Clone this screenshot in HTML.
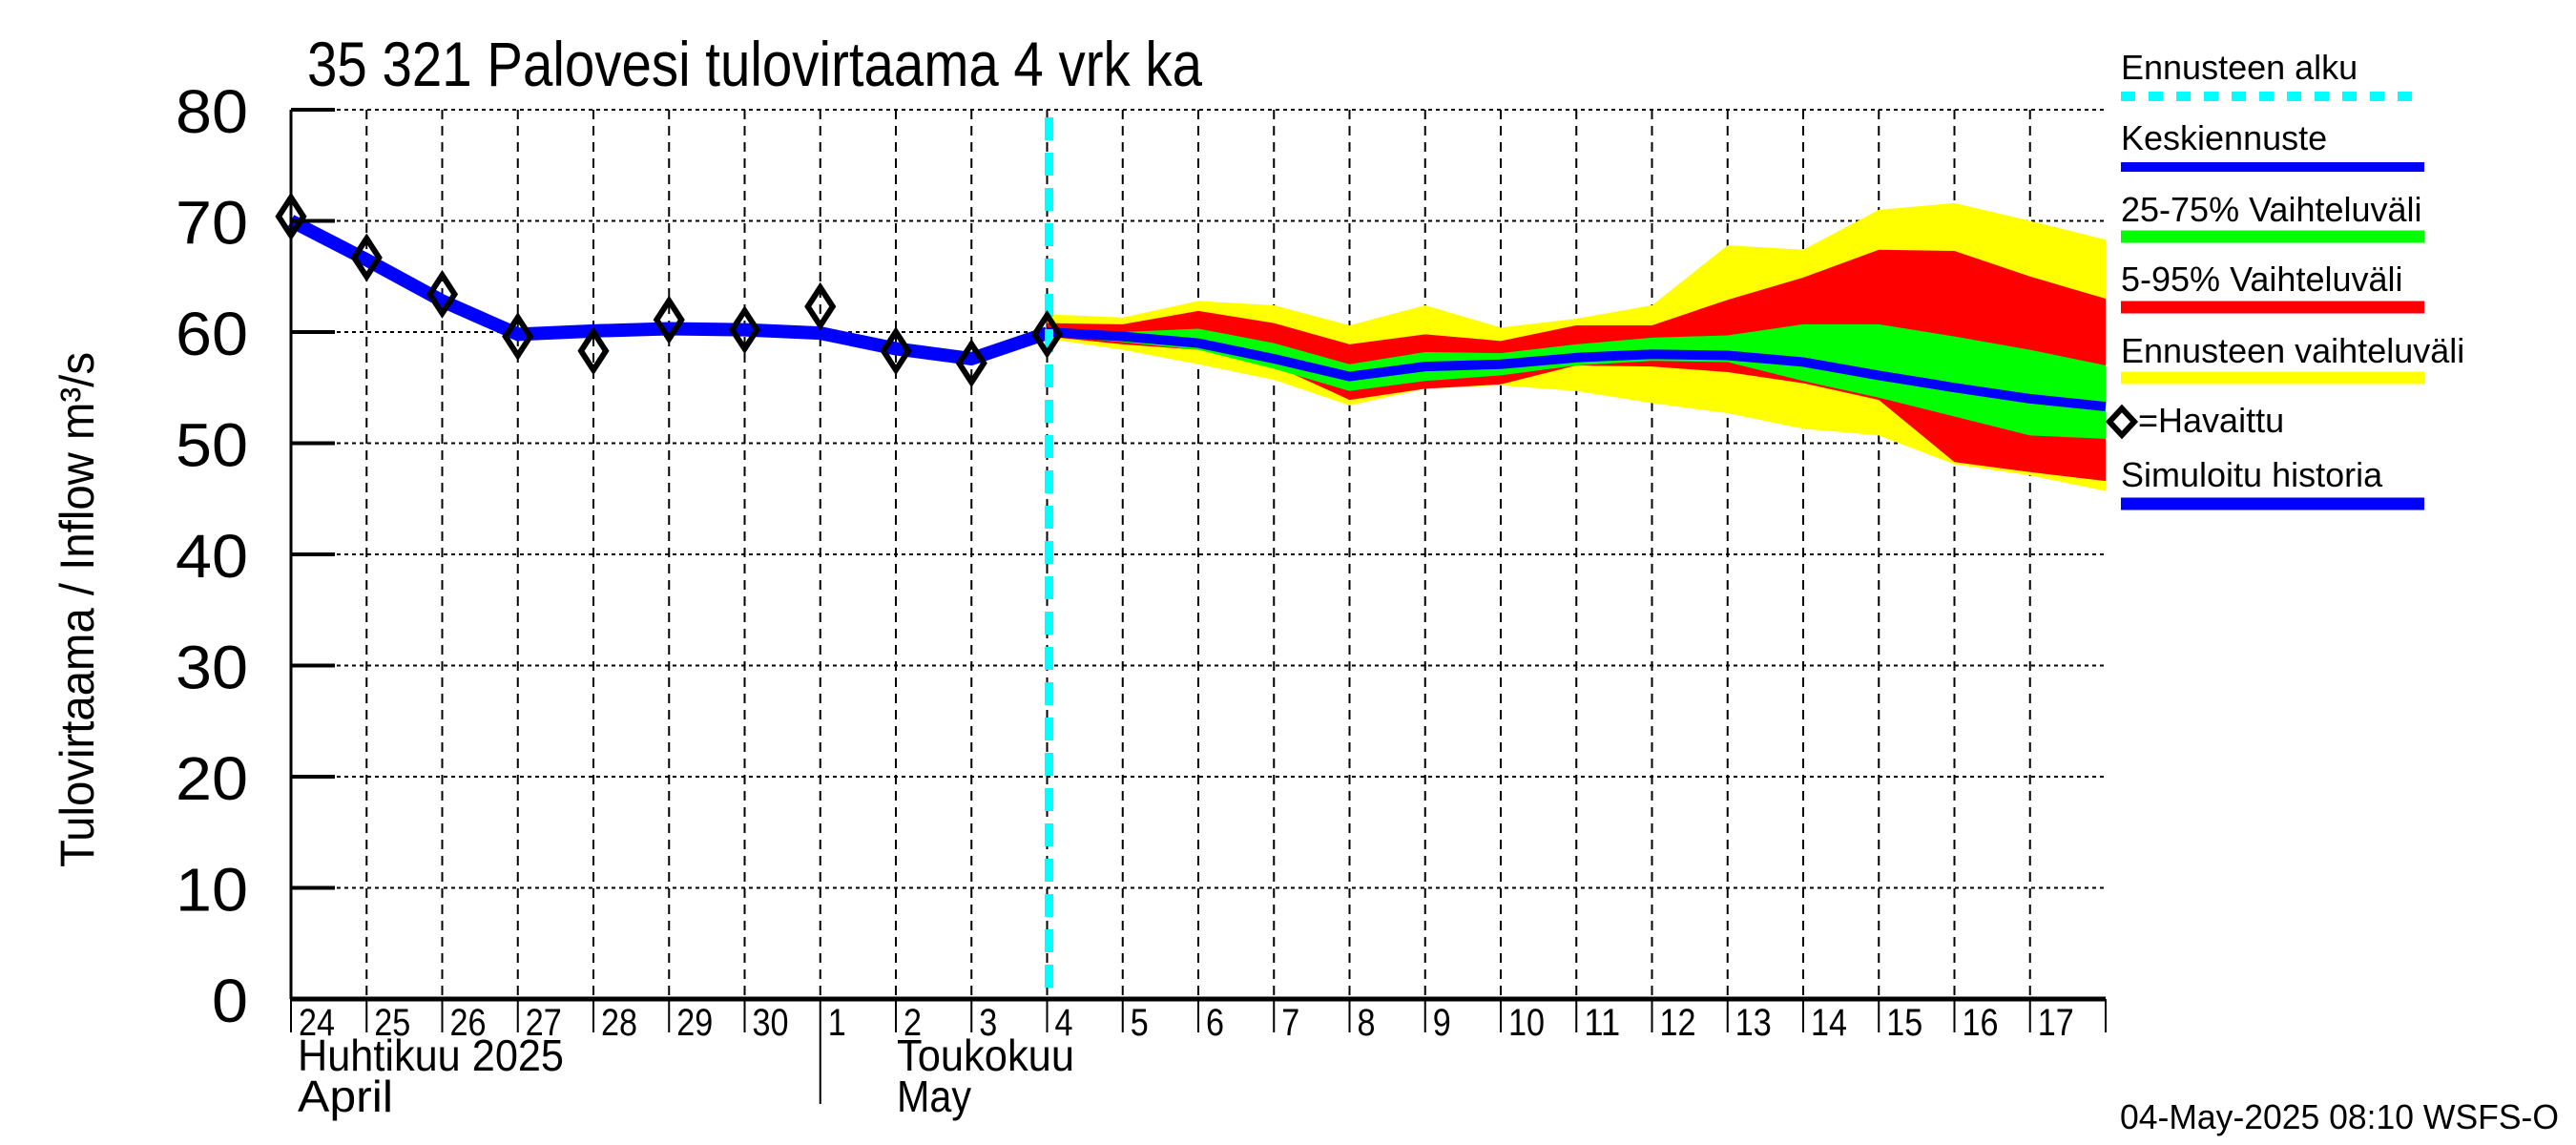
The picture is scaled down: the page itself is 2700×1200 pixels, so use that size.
<!DOCTYPE html>
<html><head><meta charset="utf-8"><style>
body{margin:0;background:#fff;}
svg{display:block;font-family:"Liberation Sans",sans-serif;}
</style></head><body>
<svg id="chart" width="2700" height="1200" viewBox="0 0 2700 1200" xmlns="http://www.w3.org/2000/svg">
<rect width="2700" height="1200" fill="#fff"/>
<g id="grid"></g>
<g id="bands"></g>
<g id="lines"></g>
<g id="axes"></g>
<text x="322" y="90" font-size="66" textLength="938" lengthAdjust="spacingAndGlyphs">35 321 Palovesi tulovirtaama 4 vrk ka</text>
<text transform="translate(98,639) rotate(-90)" text-anchor="middle" font-size="50" textLength="540" lengthAdjust="spacingAndGlyphs">Tulovirtaama / Inflow    m³/s</text>
<text x="312" y="1122" font-size="46" textLength="279" lengthAdjust="spacingAndGlyphs">Huhtikuu  2025</text>
<text x="312" y="1165" font-size="46" textLength="100" lengthAdjust="spacingAndGlyphs">April</text>
<text x="940" y="1122" font-size="46" textLength="186" lengthAdjust="spacingAndGlyphs">Toukokuu</text>
<text x="940" y="1165" font-size="46" textLength="78" lengthAdjust="spacingAndGlyphs">May</text>
<text x="2222" y="1183" font-size="36" textLength="460" lengthAdjust="spacingAndGlyphs">04-May-2025 08:10 WSFS-O</text>
<g id="legend"></g>
</svg>
<script>
const obsDays=[0,1,2,3,4,5,6,7,8,9,10];
const obsValues=[70.4,66.7,63.4,59.6,58.3,61.1,60.2,62.3,58.3,57.2,59.8];
const simDays=[0,1,2,3,4,5,6,7,8,9,10];
const simValues=[70,66.5,62.8,59.8,60.1,60.3,60.2,59.9,58.5,57.6,59.9];
const fcDays=[10,11,12,13,14,15,16,17,18,19,20,21,22,23,24];
const yellowTop=[61.6,61.3,62.8,62.4,60.6,62.4,60.4,61.2,62.4,67.8,67.4,71,71.6,70,68.3];
const redTop=[60.8,60.7,61.9,60.8,58.9,59.8,59.2,60.6,60.6,62.9,64.9,67.4,67.3,65,63];
const greenTop=[60.3,60,60.3,59,57.1,58.2,58.1,58.9,59.5,59.7,60.7,60.7,59.6,58.4,57];
const median=[60,59.6,59,57.6,56,56.9,57.1,57.7,58,57.9,57.3,56.1,55,54,53.3];
const greenBot=[59.7,59.1,58.4,56.7,54.7,55.6,56.1,57,57.4,57.3,55.6,54.1,52.4,50.7,50.4];
const redBot=[59.6,58.9,58.4,57,53.9,54.9,55.3,57,56.9,56.4,55.4,53.9,48.3,47.4,46.6];
const yellowBot=[59.4,58.4,57.1,55.7,53.4,54.9,55.2,54.7,53.6,52.7,51.3,50.7,48.1,47.1,45.7];
const yTicks=[0,10,20,30,40,50,60,70,80];
const dayLabels=["24","25","26","27","28","29","30","1","2","3","4","5","6","7","8","9","10","11","12","13","14","15","16","17"];
const forecastStart=10;

const L=305,R=2207,T=115,B=1047,NDAYS=24;
const xs=d=>L+d*(R-L)/NDAYS;
const ys=v=>B-v*(B-T)/80;
const NS="http://www.w3.org/2000/svg";
function mk(tag,parent,attrs){const e=document.createElementNS(NS,tag);for(const k in attrs)e.setAttribute(k,attrs[k]);parent.appendChild(e);return e;}
const grid=document.getElementById('grid'),axes=document.getElementById('axes'),bands=document.getElementById('bands'),lines=document.getElementById('lines'),legend=document.getElementById('legend');

yTicks.forEach(v=>{
  if(v>0){const g=mk('line',grid,{x1:L,x2:R,y1:ys(v),y2:ys(v),stroke:'#000','stroke-width':2,'stroke-dasharray':'4 4'});
  
  }
  const t=mk('line',axes,{x1:L,x2:L+46,y1:ys(v),y2:ys(v),stroke:'#000','stroke-width':4});
  
  
  const s=String(v);
  const lb=mk('text',axes,{x:260,y:ys(v)+24,'text-anchor':'end','font-size':64,textLength:s.length*38,lengthAdjust:'spacingAndGlyphs'});
  lb.textContent=s;
  
  
});
for(let d=1;d<NDAYS;d++){
  const g=mk('line',grid,{x1:xs(d),x2:xs(d),y1:T,y2:B,stroke:'#000','stroke-width':2,'stroke-dasharray':'10 7'});
  
  
}
for(let d=0;d<=NDAYS;d++){
  const t=mk('line',axes,{x1:xs(d),x2:xs(d),y1:B,y2:B+(d==7?110:35),stroke:'#000','stroke-width':2});
  
  
}
dayLabels.forEach((s,i)=>{
  const t=mk('text',axes,{x:xs(i)+8,y:B+38,'font-size':40,textLength:s.length*19,lengthAdjust:'spacingAndGlyphs'});
  t.textContent=s;
  
  
});
mk('line',axes,{x1:L,x2:L,y1:T,y2:B,stroke:'#000','stroke-width':3});
mk('line',axes,{x1:L,x2:R,y1:B,y2:B,stroke:'#000','stroke-width':5});

function band(top,bot,color,name){
  let p=fcDays.map((d,i)=>xs(d)+','+ys(top[i])).join(' ')+' '+fcDays.slice().reverse().map((d,j)=>{const i=fcDays.length-1-j;return xs(d)+','+ys(bot[i]);}).join(' ');
  const e=mk('polygon',bands,{points:p,fill:color});
  
  
}
band(yellowTop,yellowBot,'#ffff00','band-forecast-range');
band(redTop,redBot,'#ff0000','band-5-95');
band(greenTop,greenBot,'#00ff00','band-25-75');

const sim=mk('polyline',lines,{points:simDays.map((d,i)=>xs(d)+','+ys(simValues[i])).join(' '),fill:'none',stroke:'#0000ff','stroke-width':14,'stroke-linejoin':'round'});


const med=mk('polyline',lines,{points:fcDays.map((d,i)=>xs(d)+','+ys(median[i])).join(' '),fill:'none',stroke:'#0000ff','stroke-width':10,'stroke-linejoin':'round'});


const cy=mk('line',lines,{x1:xs(forecastStart)+2,x2:xs(forecastStart)+2,y1:T+8,y2:B,stroke:'#00ffff','stroke-width':9,'stroke-dasharray':'24 13'});


function diamond(parent,x,y,w,h){return mk('polygon',parent,{points:`${x},${y-h} ${x+w},${y} ${x},${y+h} ${x-w},${y}`,fill:'none',stroke:'#000','stroke-width':6});}
obsDays.forEach((d,i)=>{
  const e=diamond(lines,xs(d),ys(obsValues[i]),13,20);
  
  
});

const leg=[["Ennusteen alku",83,101,'#00ffff',10,'15 14'],["Keskiennuste",157,175,'#0000ff',10,''],["25-75% Vaihteluväli",232,248,'#00ff00',13,''],["5-95% Vaihteluväli",305,322,'#ff0000',13,''],["Ennusteen vaihteluväli",380,396,'#ffff00',13,''],["=Havaittu",453,null],["Simuloitu historia",510,528,'#0000ff',13,'']];
leg.forEach(a=>{
  const t=mk('text',legend,{x:a[2]===null?2241:2223,y:a[1],'font-size':36});
  t.textContent=a[0];
  
  
  if(a[2]!==null){
    const l=mk('line',legend,{x1:2223,x2:2541,y1:a[2],y2:a[2],stroke:a[3],'stroke-width':a[4]});
    if(a[5])l.setAttribute('stroke-dasharray',a[5]);
    
    
  }else{
    const dm=diamond(legend,2224,442,13,14);
    
    
  }
});
</script>
</body></html>
